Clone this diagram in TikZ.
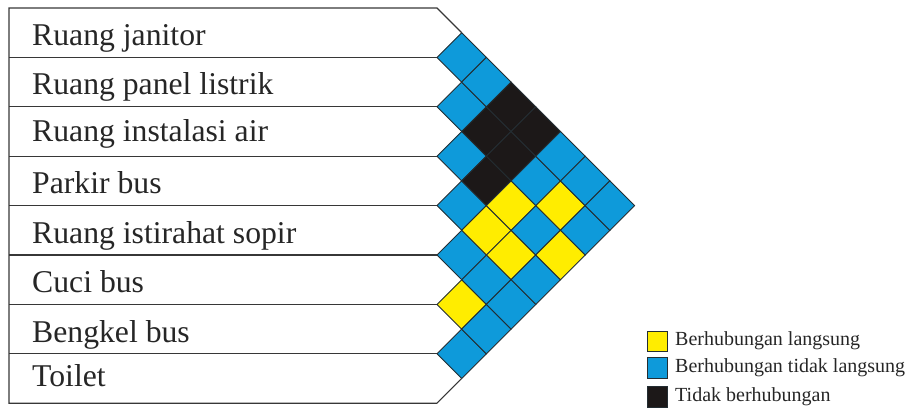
\documentclass[tikz,border=0pt]{standalone}
\usepackage{fontspec}
\setmainfont{Liberation Serif}
\definecolor{cblue}{RGB}{14,154,218}
\definecolor{cyel}{RGB}{255,237,0}
\definecolor{cblk}{RGB}{28,24,24}
\definecolor{cline}{RGB}{55,55,55}
\definecolor{cellline}{RGB}{35,45,50}
\begin{document}
\begin{tikzpicture}[x=1pt,y=-1pt,
  outline/.style={draw=cline,line width=1.1pt},
  cell/.style={draw=cellline,line width=0.9pt,line join=miter},
  lbl/.style={anchor=base west,inner sep=0pt,text=black!85,font=\fontsize{31.7}{36}\selectfont},
  leg/.style={anchor=west,inner sep=0pt,text=black!85,font=\fontsize{20}{24}\selectfont},
  legbox/.style={draw=cellline,line width=0.5pt}]
\useasboundingbox (0,0) rectangle (908,408);
% cells
\foreach \i/\j/\c in {0/1/cblue,1/2/cblue,2/3/cblue,3/4/cblue,4/5/cblue,5/6/cyel,6/7/cblue,
  0/2/cblue,1/3/cblk,2/4/cblk,3/5/cyel,4/6/cblue,5/7/cblue,
  0/3/cblk,1/4/cblk,2/5/cyel,3/6/cyel,4/7/cblue,
  0/4/cblk,1/5/cblue,2/6/cblue,3/7/cblue,
  0/5/cblue,1/6/cyel,2/7/cyel,
  0/6/cblue,1/7/cblue,
  0/7/cblue}{
  \pgfmathsetmacro\cx{437+(\j-\i)*24.7}
  \pgfmathsetmacro\cy{8+24.7*(\i+\j+1)}
  \path[cell,fill=\c] (\cx-24.7,\cy) -- (\cx,\cy-24.7) -- (\cx+24.7,\cy) -- (\cx,\cy+24.7) -- cycle;
}
% label frame
\draw[outline] (461.7,32.7) -- (437,8) -- (9,8) -- (9,403.2) -- (437,403.2) -- (461.7,378.5);
\foreach \k in {1,...,7}{
  \draw[outline] (9,{8+49.4*\k}) -- (437,{8+49.4*\k});
}
% labels
\node[lbl] (r0) at (32,45) {Ruang janitor};
\node[lbl] (r1) at (32,94) {Ruang panel listrik};
\node[lbl] (r2) at (32,141) {Ruang instalasi air};
\node[lbl] (r3) at (32,193) {Parkir bus};
\node[lbl] (r4) at (32,243) {Ruang istirahat sopir};
\node[lbl] (r5) at (32,292) {Cuci bus};
\node[lbl] (r6) at (32,342) {Bengkel bus};
\node[lbl] (r7) at (32,386) {Toilet};
% legend
\path[legbox,fill=cyel] (647,331) rectangle (667,351);
\path[legbox,fill=cblue] (647,357) rectangle (667,378);
\path[legbox,fill=cblk] (647,386) rectangle (667,407);
\node[leg] (l1) at (675,341) {Berhubungan langsung};
\node[leg] (l2) at (675,367.5) {Berhubungan tidak langsung};
\node[leg] (l3) at (675,397) {Tidak berhubungan};
\end{tikzpicture}
\end{document}
